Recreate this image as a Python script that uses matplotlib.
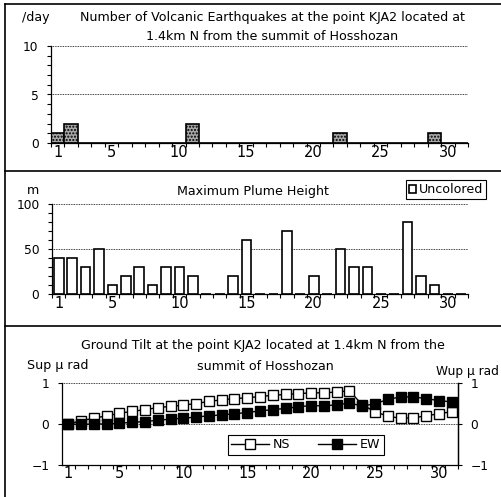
import numpy as np
from matplotlib import pyplot as plt
from matplotlib.lines import Line2D

# data
days = np.arange(1, 32)
quakes = [1, 2, 0, 0, 0, 0, 0, 0, 0, 0, 2, 0, 0, 0, 0, 0, 0, 0, 0, 0,
          0, 1, 0, 0, 0, 0, 0, 0, 1, 0, 0]
plume = [40, 40, 30, 50, 10, 20, 30, 10, 30, 30, 20, 0, 0, 20, 60, 0, 0, 70, 0, 20,
         0, 50, 30, 30, 0, 0, 80, 20, 10, 0, 0]
tilt_ns = [0.0, 0.08, 0.14, 0.2, 0.26, 0.31, 0.35, 0.4, 0.43, 0.46, 0.5, 0.55, 0.59, 0.62, 0.64,
           0.67, 0.7, 0.72, 0.74, 0.76, 0.76, 0.78, 0.81, 0.47, 0.3, 0.19, 0.14, 0.15, 0.2, 0.25, 0.3]
tilt_ew = [0.0, -0.01, 0.0, 0.0, 0.02, 0.04, 0.06, 0.09, 0.12, 0.14, 0.17, 0.2, 0.22, 0.25, 0.28,
           0.32, 0.35, 0.38, 0.42, 0.45, 0.44, 0.47, 0.51, 0.44, 0.49, 0.6, 0.66, 0.66, 0.62, 0.57, 0.54]
xlabels = [1, 5, 10, 15, 20, 25, 30]

W, H = 501, 497
plt.rcParams['font.family'] = ['DejaVu Sans']
fig = plt.figure(figsize=(W / 100, H / 100), dpi=100)
TXT = 9.1


def rect(x0, y_top, x1, y_bot):
    # pixel box -> figure fraction
    return [x0 / W, 1 - y_bot / H, (x1 - x0) / W, (y_bot - y_top) / H]


def ftext(x, y, s, **kw):
    kw.setdefault('fontsize', TXT)
    fig.text(x / W, 1 - y / H, s, va='center', **kw)


def style(ax):
    for s in ['top', 'right']:
        ax.spines[s].set_visible(False)
    ax.spines['left'].set_linewidth(0.9)
    ax.spines['bottom'].set_linewidth(0.9)
    ax.set_xticks(np.arange(0.5, 32, 1))
    ax.set_xticklabels([])
    ax.tick_params(axis='x', which='major', length=3, direction='out', width=0.8)
    ax.tick_params(axis='y', which='both', length=3, direction='out', width=0.8, labelsize=8.8, pad=6)
    for d in xlabels:
        ax.text(d, -0.1, str(d), transform=ax.get_xaxis_transform(), ha='center', va='center', fontsize=10.5)
    ax.set_axisbelow(True)
    ax.grid(axis='y', which='major', linestyle=(0, (1, 1)), color='black', linewidth=0.6)


# panel frames
for seg in [([5, 5], [4, H]), ([5, W], [4, 4]), ([5, W], [171, 171]), ([5, W], [326, 326])]:
    fig.add_artist(Line2D([x / W for x in seg[0]], [1 - y / H for y in seg[1]],
                          color='black', linewidth=1.2))

# --- volcanic earthquakes ---
ax1 = fig.add_axes(rect(51, 46, 468, 143))
ax1.bar(days, quakes, width=1.0, color='#a8a8a8', edgecolor='black', hatch='.....', linewidth=1.2)
ax1.set_xlim(0.5, 31.5)
ax1.set_ylim(0, 10)
ax1.set_yticks([0, 5, 10])
ax1.set_yticks(np.arange(0, 11, 1), minor=True)
style(ax1)
ftext(22, 18, '/day')
ftext(272, 18, 'Number of Volcanic Earthquakes at the point KJA2 located at', ha='center')
ftext(272, 37, '1.4km N from the summit of Hosshozan', ha='center')

# --- plume height ---
ax2 = fig.add_axes(rect(52, 204, 468, 294))
ax2.bar(days, plume, width=0.72, color='white', edgecolor='black', linewidth=1.2, label='Uncolored')
ax2.set_xlim(0.5, 31.5)
ax2.set_ylim(0, 100)
ax2.set_yticks([0, 50, 100])
ax2.set_yticks(np.arange(0, 101, 10), minor=True)
style(ax2)
ftext(27, 190, 'm')
ftext(253, 192, 'Maximum Plume Height', ha='center')
leg = ax2.legend(loc='center', bbox_to_anchor=(0.947, 1.161), fontsize=TXT, frameon=True,
                 fancybox=False, edgecolor='black', framealpha=1, handlelength=0.6,
                 handleheight=0.6, handletextpad=0.2, borderpad=0.25, borderaxespad=0)
leg.get_frame().set_linewidth(0.8)

# --- ground tilt ---
ax3 = fig.add_axes(rect(62, 383, 458, 465))
ax3.plot(days, tilt_ns, '-', color='black', linewidth=1, marker='s', markersize=7.5,
         markerfacecolor='white', markeredgecolor='black', markeredgewidth=1, label='NS')
ax3.plot(days, tilt_ew, '-', color='black', linewidth=1, marker='s', markersize=7.5,
         markerfacecolor='black', markeredgecolor='black', label='EW')
ax3.set_xlim(0.62, 31.4)
ax3.set_ylim(-1, 1)
ax3.set_yticks([-1, 0, 1])
ax3.set_yticklabels(['\u22121', '0', '1'])
style(ax3)
ax3.spines['right'].set_visible(True)
ax3.spines['right'].set_linewidth(0.9)
ax3.set_xticks(np.arange(1, 32, 1) + 0.5)
ax3.set_xticklabels([])
ax3r = ax3.twinx()
ax3r.set_ylim(-1, 1)
ax3r.set_yticks([-1, 0, 1])
ax3r.set_yticklabels(['\u22121', '0', '1'])
ax3r.tick_params(axis='y', length=3, direction='out', width=0.8, labelsize=8.8, pad=6)
for s in ['top', 'left', 'bottom']:
    ax3r.spines[s].set_visible(False)
ax3r.spines['right'].set_linewidth(0.9)
leg3 = ax3.legend(loc='center', bbox_to_anchor=(0.616, 0.244), ncol=2, fontsize=TXT,
                  frameon=True, fancybox=False, edgecolor='black', framealpha=1,
                  handlelength=3.0, columnspacing=2.2, handletextpad=0.3, borderpad=0.3,
                  borderaxespad=0)
leg3.get_frame().set_linewidth(0.8)
ftext(263, 345, 'Ground Tilt at the point KJA2 located at 1.4km N from the', ha='center')
ftext(265, 366, 'summit of Hosshozan', ha='center')
ftext(27, 366, 'Sup \u03bc rad')
ftext(499, 372, 'Wup \u03bc rad', ha='right', fontsize=8.7)

fig.savefig('out.png', dpi=100)
